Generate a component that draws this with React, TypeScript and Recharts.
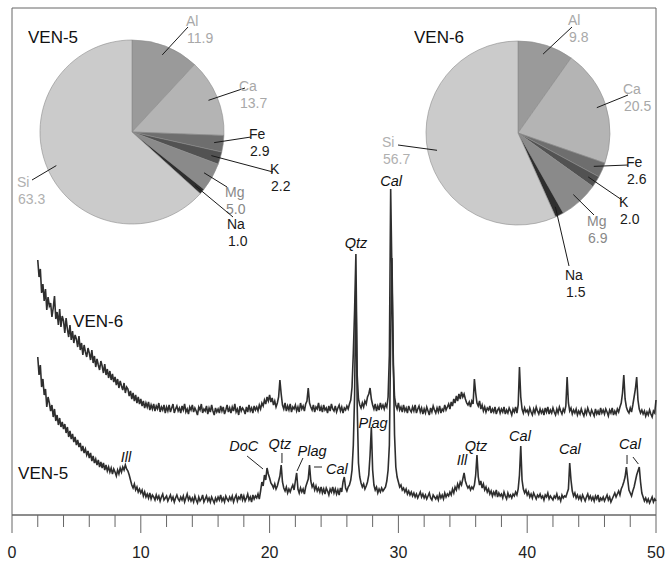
import { LineChart, Line, XAxis, YAxis, ReferenceArea, ReferenceLine, ReferenceDot, PieChart, Pie, Cell } from 'recharts';

const FONT = '"Liberation Sans", Arial, sans-serif';

// XRD patterns, 2-theta from 2.0 to 50.0 in 0.1 steps (intensity, arbitrary units)
const START = 2;
const STEP = 0.1;

const ven6 = [
  255, 238, 246, 222, 231, 214, 226, 205, 218, 209,
  212, 198, 207, 219, 196, 203, 190, 206, 188, 199,
  194, 182, 197, 186, 178, 190, 175, 184, 172, 180,
  176, 168, 179, 165, 172, 160, 170, 163, 158, 167,
  162, 155, 165, 152, 159, 148, 156, 150, 145, 154,
  149, 142, 151, 140, 146, 137, 144, 135, 141, 133,
  138, 130, 136, 127, 134, 129, 125, 132, 122, 128,
  126, 119, 124, 116, 122, 114, 120, 112, 118, 111,
  116, 109, 114, 107, 112, 108, 113, 105, 110, 106,
  111, 104, 109, 106, 112, 103, 108, 105, 110, 102,
  108, 104, 110, 103, 107, 111, 102, 106, 109, 104,
  107, 102, 109, 105, 111, 103, 106, 101, 108, 105,
  110, 103, 107, 104, 100, 108, 105, 111, 102, 106,
  104, 109, 101, 107, 103, 110, 104, 100, 107, 103,
  106, 102, 109, 104, 108, 101, 105, 110, 103, 107,
  102, 108, 104, 111, 103, 106, 100, 109, 104, 107,
  105, 101, 108, 103, 110, 104, 107, 102, 109, 105,
  108, 104, 110, 106, 112, 109, 115, 111, 118, 114,
  120, 113, 117, 110, 114, 108, 112, 118, 135, 121,
  110, 106, 112, 104, 109, 105, 111, 103, 108, 106,
  110, 104, 108, 103, 112, 106, 109, 104, 111, 114,
  127, 112, 108, 105, 110, 103, 108, 106, 112, 104,
  108, 103, 110, 105, 107, 102, 109, 104, 111, 106,
  104, 109, 103, 107, 110, 104, 108, 102, 107, 105,
  109, 106, 111, 115, 128, 162, 205, 261, 140, 116,
  110, 107, 112, 108, 114, 111, 118, 121, 127, 116,
  110, 106, 111, 104, 109, 105, 112, 107, 110, 106,
  111, 108, 118, 160, 326, 240, 150, 118, 110, 106,
  112, 105, 108, 103, 110, 104, 107, 102, 109, 105,
  103, 108, 104, 110, 102, 106, 109, 103, 107, 101,
  106, 102, 108, 104, 100, 107, 103, 109, 105, 102,
  107, 103, 109, 102, 106, 104, 110, 105, 108, 111,
  106, 113, 109, 116, 112, 119, 114, 121, 116, 123,
  118, 121, 116, 112, 110, 113, 108, 114, 111, 136,
  122, 112, 109, 114, 106, 110, 104, 108, 103, 107,
  105, 109, 102, 106, 103, 108, 101, 105, 107, 102,
  106, 103, 108, 101, 105, 102, 107, 104, 100, 106,
  103, 108, 102, 110, 148, 118, 106, 102, 107, 103,
  105, 101, 107, 103, 100, 106, 102, 108, 104, 101,
  106, 102, 105, 100, 107, 103, 108, 101, 105, 102,
  107, 103, 100, 106, 102, 108, 104, 101, 106, 103,
  109, 138, 112, 104, 107, 101, 105, 102, 106, 100,
  104, 101, 106, 102, 99, 105, 101, 107, 103, 100,
  105, 102, 99, 106, 101, 104, 100, 107, 102, 105,
  101, 106, 103, 99, 105, 102, 107, 100, 104, 101,
  106, 103, 108, 112, 122, 140, 116, 108, 104, 102,
  107, 103, 110, 118, 126, 138, 115, 106, 102, 105,
  101, 104, 99, 103, 100, 105, 101, 98, 104, 102,
  115,
];

const ven5 = [
  158, 140, 150, 128, 136, 120, 126, 108, 118, 112,
  104, 110, 98, 106, 94, 100, 90, 97, 88, 93,
  86, 91, 82, 88, 78, 84, 76, 81, 73, 78,
  70, 75, 68, 72, 64, 69, 62, 66, 60, 64,
  57, 62, 54, 59, 52, 56, 50, 55, 48, 53,
  47, 52, 45, 50, 44, 48, 43, 47, 41, 46,
  43, 39, 45, 41, 47, 43, 48, 45, 50, 46,
  44, 40, 35, 30, 27, 31, 25, 28, 23, 26,
  22, 25, 19, 23, 18, 21, 17, 22, 16, 20,
  18, 15, 20, 16, 19, 14, 18, 21, 15, 17,
  19, 14, 17, 20, 15, 18, 13, 17, 20, 16,
  14, 18, 15, 19, 13, 17, 21, 15, 18, 14,
  17, 13, 19, 15, 12, 18, 14, 16, 20, 13,
  16, 19, 14, 17, 13, 18, 15, 12, 17, 14,
  18, 15, 20, 14, 17, 13, 19, 16, 14, 18,
  15, 19, 13, 17, 20, 14, 18, 16, 21, 15,
  19, 14, 17, 21, 15, 18, 13, 20, 16, 19,
  17, 21, 16, 24, 33, 29, 40, 35, 47, 41,
  37, 32, 30, 27, 31, 26, 29, 34, 39, 50,
  33, 27, 24, 28, 22, 26, 23, 27, 30, 25,
  34, 42, 26, 22, 27, 23, 26, 21, 28, 32,
  36, 50, 34, 28, 31, 25, 29, 24, 27, 23,
  28, 22, 26, 21, 27, 24, 20, 26, 23, 28,
  22, 26, 21, 25, 20, 27, 23, 33, 38, 27,
  24, 28, 30, 35, 45, 70, 120, 233, 110, 52,
  38, 32, 28, 31, 26, 29, 33, 40, 60, 88,
  45, 30, 25, 28, 22, 26, 23, 27, 24, 26,
  28, 34, 45, 70, 175, 257, 160, 80, 48, 38,
  33, 28, 30, 25, 27, 23, 26, 21, 24, 20,
  23, 19, 22, 18, 21, 17, 20, 23, 18, 21,
  17, 20, 16, 19, 22, 17, 15, 20, 18, 16,
  19, 15, 21, 17, 20, 16, 22, 18, 21, 19,
  23, 20, 26, 22, 28, 25, 31, 27, 33, 30,
  36, 42, 34, 30, 27, 29, 25, 28, 26, 30,
  40, 60, 38, 30, 34, 27, 31, 25, 28, 23,
  26, 21, 24, 19, 23, 20, 25, 18, 22, 19,
  21, 17, 23, 19, 16, 22, 18, 20, 17, 21,
  19, 23, 20, 26, 40, 69, 35, 26, 22, 25,
  20, 23, 18, 21, 17, 22, 19, 16, 20, 18,
  21, 17, 19, 15, 20, 18, 22, 16, 19, 17,
  15, 19, 17, 21, 16, 18, 14, 20, 17, 19,
  18, 22, 26, 52, 35, 24, 19, 22, 17, 20,
  16, 19, 15, 20, 17, 14, 18, 21, 16, 19,
  15, 18, 14, 19, 16, 20, 13, 17, 15, 18,
  14, 17, 20, 15, 18, 13, 16, 19, 22, 18,
  21, 24, 20, 26, 29, 33, 38, 48, 36, 25,
  22, 19, 24, 28, 34, 40, 44, 48, 33, 22,
  18, 14, 17, 13, 16, 12, 15, 18, 13, 16,
  14,
];

const xTicks = [0, 2, 4, 6, 8, 10, 12, 14, 16, 18, 20, 22, 24, 26, 28, 30, 32, 34, 36, 38, 40, 42, 44, 46, 48, 50];

// phase labels (2-theta, intensity of label centre)
const peakLabels = [
  { text: 'Qtz', t: 26.71, h: 272 },
  { text: 'Cal', t: 29.43, h: 334 },
  { text: 'Ill', t: 8.85, h: 58 },
  { text: 'DoC', t: 18.0, h: 69 },
  { text: 'Qtz', t: 20.8, h: 71 },
  { text: 'Plag', t: 23.3, h: 64 },
  { text: 'Cal', t: 25.23, h: 46 },
  { text: 'Plag', t: 28.03, h: 92 },
  { text: 'Ill', t: 34.94, h: 55 },
  { text: 'Qtz', t: 36.02, h: 69 },
  { text: 'Cal', t: 39.44, h: 79 },
  { text: 'Cal', t: 43.32, h: 66 },
  { text: 'Cal', t: 47.98, h: 71 },
];

const leaders = [
  [18.25, 59, 19.49, 46],
  [20.96, 62, 20.96, 52],
  [22.59, 57, 22.13, 44],
  [23.45, 48, 24.07, 48],
  [47.75, 60, 47.75, 51],
  [48.21, 58, 48.63, 51],
];

const sampleNames = [
  { text: 'VEN-6', t: 4.74, h: 194 },
  { text: 'VEN-5', t: 0.47, h: 42 },
];

// chemical composition (%)
const elements = ['Al', 'Ca', 'Fe', 'K', 'Mg', 'Na', 'Si'];
const ven5Comp = [11.9, 13.7, 2.9, 2.2, 5.0, 1.0, 63.3];
const ven6Comp = [9.8, 20.5, 2.6, 2.0, 6.9, 1.5, 56.7];

const sliceColors = ['#9a9a9a', '#b4b4b4', '#6e6e6e', '#525252', '#8a8a8a', '#2e2e2e', '#cbcbcb'];
const labelColors = ['#a8a8a8', '#a8a8a8', '#1a1a1a', '#1a1a1a', '#888888', '#1a1a1a', '#b0b0b0'];

// leader end (ex, ey) and text (tx, ty) relative to pie centre
const ven5Layout = [
  { ex: 56, ey: -105, tx: 54, ty: -106 },
  { ex: 113, ey: -44, tx: 107, ty: -41 },
  { ex: 119, ey: 5, tx: 117, ty: 7 },
  { ex: 141, ey: 40, tx: 138, ty: 42 },
  { ex: 95, ey: 55, tx: 93, ty: 65 },
  { ex: 101, ey: 85, tx: 95, ty: 97 },
  { ex: -100, ey: 48, tx: -115, ty: 55 },
];
const ven6Layout = [
  { ex: 54, ey: -106, tx: 50, ty: -108 },
  { ex: 110, ey: -38, tx: 105, ty: -39 },
  { ex: 110, ey: 32, tx: 108, ty: 34 },
  { ex: 104, ey: 67, tx: 101, ty: 74 },
  { ex: 76, ey: 82, tx: 69, ty: 93 },
  { ex: 51, ey: 133, tx: 47, ty: 147 },
  { ex: -120, ey: 12, tx: -136, ty: 14 },
];

const table = ven6.map((v, i) => ({
  t: Math.round((START + i * STEP) * 10) / 10,
  ven6: v,
  ven5: ven5[i],
}));

const AxisTick = (props: any) => {
  const { x, y, payload } = props;
  const major = payload.value % 10 === 0;
  return (
    <g>
      <line x1={x} y1={y} x2={x} y2={y + (major ? 18 : 12)} stroke="#666" strokeWidth={1} />
      {major && (
        <text x={x} y={y + 43} textAnchor="middle" fontSize={16} fontFamily={FONT} fill="#222">
          {payload.value}
        </text>
      )}
    </g>
  );
};

const CompositionPie = ({ values, layout, cx, cy, left, title }: any) => {
  const data = elements.map((name, i) => ({ name, value: values[i] }));
  const renderLabel = (p: any) => {
    const RAD = Math.PI / 180;
    const r = p.outerRadius * 0.9;
    const sx = p.cx + r * Math.cos(-p.midAngle * RAD);
    const sy = p.cy + r * Math.sin(-p.midAngle * RAD);
    const l = layout[p.index];
    const color = labelColors[p.index];
    return (
      <g key={`lbl-${p.index}`}>
        <line x1={sx} y1={sy} x2={p.cx + l.ex} y2={p.cy + l.ey} stroke="#1a1a1a" strokeWidth={1} />
        <text x={p.cx + l.tx} y={p.cy + l.ty} fontSize={14} fontFamily={FONT} fill={color}>
          {data[p.index].name}
        </text>
        <text x={p.cx + l.tx + 1} y={p.cy + l.ty + 17} fontSize={14} fontFamily={FONT} fill={color}>
          {data[p.index].value.toFixed(1)}
        </text>
      </g>
    );
  };
  return (
    <div style={{ position: 'absolute', left, top: 0 }}>
      <PieChart width={337} height={320} margin={{ top: 0, right: 0, bottom: 0, left: 0 }}>
        <Pie
          data={data}
          dataKey="value"
          cx={cx}
          cy={cy}
          outerRadius={92}
          startAngle={90}
          endAngle={-270}
          stroke="#8c8c8c"
          strokeWidth={0.6}
          label={renderLabel}
          labelLine={false}
          isAnimationActive={false}
        >
          {data.map((d, i) => (
            <Cell key={d.name} fill={sliceColors[i]} />
          ))}
        </Pie>
      </PieChart>
      <svg width={200} height={60} style={{ position: 'absolute', left: cx - 104, top: 0 }}>
        <text x={0} y={43} fontSize={17} fontFamily={FONT} fill="#111">
          {title}
        </text>
      </svg>
    </div>
  );
};

export default function App() {
  return (
    <div style={{ position: 'absolute', left: 0, top: 0, width: 667, height: 564, background: '#fff', fontFamily: FONT }}>
      <LineChart width={667} height={564} data={table} margin={{ top: 8, right: 11, bottom: 0, left: 12 }}>
        <XAxis
          dataKey="t"
          type="number"
          domain={[0, 50]}
          ticks={xTicks}
          interval={0}
          tickLine={false}
          tickSize={0}
          tickMargin={0}
          height={49}
          tick={(p: any) => <AxisTick {...p} />}
          axisLine={{ stroke: '#666', strokeWidth: 1 }}
        />
        <YAxis hide domain={[0, 507]} />
        <ReferenceArea x1={0} x2={50} y1={0} y2={507} fill="#fff" fillOpacity={0} stroke="#666" strokeWidth={1} />
        <Line type="linear" dataKey="ven6" stroke="#2e2e2e" strokeWidth={1.6} dot={false} isAnimationActive={false} />
        <Line type="linear" dataKey="ven5" stroke="#2e2e2e" strokeWidth={1.6} dot={false} isAnimationActive={false} />
        {leaders.map((s, i) => (
          <ReferenceLine
            key={`ld-${i}`}
            segment={[{ x: s[0], y: s[1] }, { x: s[2], y: s[3] }]}
            stroke="#222"
            strokeWidth={1}
          />
        ))}
        {peakLabels.map((p, i) => (
          <ReferenceDot
            key={`pk-${i}`}
            x={p.t}
            y={p.h}
            r={0}
            shape={(s: any) => (
              <text x={s.cx} y={s.cy} textAnchor="middle" dominantBaseline="central" fontSize={14.5} fontStyle="italic" fontFamily={FONT} fill="#111">
                {p.text}
              </text>
            )}
          />
        ))}
        {sampleNames.map((p, i) => (
          <ReferenceDot
            key={`sn-${i}`}
            x={p.t}
            y={p.h}
            r={0}
            shape={(s: any) => (
              <text x={s.cx} y={s.cy} dominantBaseline="central" fontSize={17} fontFamily={FONT} fill="#111">
                {p.text}
              </text>
            )}
          />
        ))}
      </LineChart>
      <CompositionPie values={ven5Comp} layout={ven5Layout} cx={132} cy={132} left={0} title="VEN-5" />
      <CompositionPie values={ven6Comp} layout={ven6Layout} cx={188} cy={133} left={330} title="VEN-6" />
    </div>
  );
}
